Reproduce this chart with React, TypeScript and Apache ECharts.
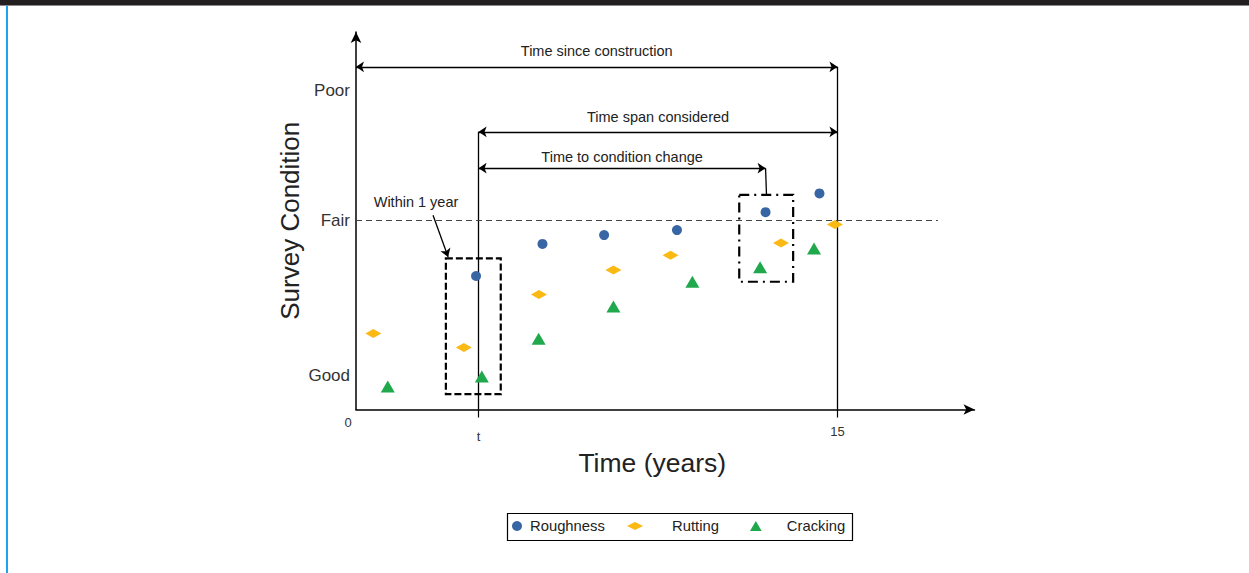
import React, { useEffect, useRef } from "react";
import * as echarts from "echarts";

// ---- data ----
const roughnessX = [3.74, 5.81, 7.73, 10.0, 12.76, 14.44];
const roughnessY = [34.9, 43.3, 45.6, 46.9, 51.6, 56.5];
const ruttingX = [0.54, 3.36, 5.7, 8.02, 9.8, 13.24, 14.92];
const ruttingY = [19.9, 16.2, 30.1, 36.5, 40.3, 43.5, 48.4];
const crackingX = [0.99, 3.92, 5.69, 8.02, 10.48, 12.59, 14.27];
const crackingY = [6.0, 8.6, 18.5, 26.9, 33.4, 37.2, 42.1];

const seriesNames = ["Roughness", "Rutting", "Cracking"];

const yTickValues = [8.8, 49.5, 83.3];
const yTickLabels = ["Good", "Fair", "Poor"];
const tValue = 3.82;
const xTickValues = [0, tValue, 15];
const xTickLabels = ["0", "t", "15"];

// annotation anchors (data units)
const sinceConstructionY = 89.6;
const spanConsideredY = 72.6;
const conditionChangeY = 63.1;
const conditionChangeEndX = 12.76;
const fairLineEndX = 18.13;
const box1 = [2.8, 39.5, 4.51, 4.0];
const box2 = [11.94, 56.1, 13.62, 33.4];
const withinArrow = [2.4, 50.8, 2.87, 39.9];
const withinText = [1.87, 54.2];

const FONT = "'Liberation Sans', Arial, Helvetica, sans-serif";

export default function App() {
  const ref = useRef<HTMLDivElement>(null);

  useEffect(() => {
    const chart = echarts.init(ref.current as HTMLDivElement, null, { renderer: "svg" });
    const black = "#000";
    const textColor = "#222";
    const lineStyle = { color: black, width: 1.3, type: "solid" as const };

    const seg = (
      x1: number, y1: number, x2: number, y2: number,
      s1: string, s2: string, style: any, label?: string, dist?: number
    ) => [
      {
        coord: [x1, y1],
        symbol: s1,
        lineStyle: style,
        label: label
          ? { show: true, formatter: label, position: "middle", distance: dist ?? 6,
              color: textColor, fontSize: 14.5, fontFamily: FONT }
          : { show: false },
      },
      { coord: [x2, y2], symbol: s2 },
    ];

    const legendBase = {
      top: 518.5,
      orient: "horizontal",
      itemWidth: 16,
      itemHeight: 10,
      padding: 0,
      selectedMode: false,
      textStyle: { fontSize: 14.8, color: textColor, fontFamily: FONT },
    };

    const option: any = {
      animation: false,
      backgroundColor: "#fff",
      textStyle: { fontFamily: FONT },
      graphic: [
        { type: "rect", shape: { x: 0, y: 0, width: 1249, height: 5 }, style: { fill: "#231f20" }, silent: true },
        { type: "rect", shape: { x: 0, y: 5, width: 1249, height: 1 }, style: { fill: "#8a8a8a" }, silent: true },
        { type: "rect", shape: { x: 6, y: 6, width: 2, height: 567 }, style: { fill: "#1aa6ee" }, silent: true },
        { type: "rect", shape: { x: 507.5, y: 513.5, width: 345, height: 27 }, style: { fill: "none", stroke: "#000", lineWidth: 1.2 }, silent: true },
      ],
      grid: { left: 356, top: 32, right: 274.5, bottom: 163.5, containLabel: false },
      legend: [
        { ...legendBase, left: 512, data: [{ name: seriesNames[0], icon: "circle" }] },
        { ...legendBase, left: 627, data: [{ name: seriesNames[1], icon: "path://M0,4L8,0L16,4L8,8Z", textStyle: { padding: [0, 0, 0, 24] } }] },
        { ...legendBase, left: 750, data: [{ name: seriesNames[2], icon: "path://M7,0L14,12L0,12Z", textStyle: { padding: [0, 0, 0, 18] } }] },
      ],
      xAxis: {
        type: "value",
        min: 0,
        max: 19.27,
        splitLine: { show: false },
        axisLine: { show: true, lineStyle: { color: black, width: 1.5 }, symbol: ["none", "arrow"], symbolSize: [8, 11] },
        axisTick: { show: true, customValues: [tValue, 15], length: 8, lineStyle: { color: black, width: 1.2 } },
        axisLabel: {
          show: true,
          customValues: xTickValues,
          margin: 6,
          formatter: (v: number) => {
            const i = xTickValues.findIndex((t) => Math.abs(t - v) < 1e-6);
            const key = ["z", "t", "f"][i];
            return i >= 0 ? `{${key}|${xTickLabels[i]}}` : "";
          },
          rich: {
            z: { fontSize: 13, color: "#333", fontFamily: FONT, padding: [0, 16, 0, 0] },
            t: { fontSize: 13, color: "#333", fontFamily: FONT, padding: [14, 0, 0, 0] },
            f: { fontSize: 13, color: "#333", fontFamily: FONT, padding: [9, 0, 0, 0] },
          },
        },
        name: "Time (years)",
        nameLocation: "middle",
        nameGap: 40,
        nameTextStyle: { fontSize: 26.5, color: textColor, fontFamily: FONT, padding: [0, 26, 0, 0] },
      },
      yAxis: {
        type: "value",
        min: 0,
        max: 98.7,
        splitLine: { show: false },
        axisLine: { show: true, lineStyle: { color: black, width: 1.5 }, symbol: ["none", "arrow"], symbolSize: [8, 11] },
        axisTick: { show: false },
        axisLabel: {
          show: true,
          customValues: yTickValues,
          margin: 6,
          fontSize: 17,
          color: "#333",
          fontFamily: FONT,
          formatter: (v: number) => {
            const i = yTickValues.findIndex((t) => Math.abs(t - v) < 1e-6);
            return i >= 0 ? yTickLabels[i] : "";
          },
        },
        name: "Survey Condition",
        nameLocation: "middle",
        nameGap: 53,
        nameTextStyle: { fontSize: 26, color: textColor, fontFamily: FONT },
      },
      series: [
        {
          name: seriesNames[0],
          type: "scatter",
          symbol: "circle",
          symbolSize: 10,
          itemStyle: { color: "#3866a4", opacity: 1 },
          data: roughnessX.map((x, i) => [x, roughnessY[i]]),
          z: 5,
        },
        {
          name: seriesNames[1],
          type: "scatter",
          symbol: "diamond",
          symbolSize: [16, 9],
          itemStyle: { color: "#fbb914", opacity: 1 },
          data: ruttingX.map((x, i) => [x, ruttingY[i]]),
          z: 5,
        },
        {
          name: seriesNames[2],
          type: "scatter",
          symbol: "triangle",
          symbolSize: [14, 12],
          itemStyle: { color: "#1fa84c", opacity: 1 },
          data: crackingX.map((x, i) => [x, crackingY[i]]),
          z: 5,
        },
        {
          name: "annotations",
          type: "scatter",
          data: [],
          clip: false,
          silent: true,
          z: 3,
          markLine: {
            silent: true,
            animation: false,
            symbol: ["none", "none"],
            symbolSize: 8,
            label: { show: false },
            emphasis: { disabled: true },
            data: [
              seg(0, sinceConstructionY, 15, sinceConstructionY, "arrow", "arrow", lineStyle, "Time since construction", 8),
              seg(15, sinceConstructionY, 15, 0, "none", "none", lineStyle),
              seg(tValue, spanConsideredY, 15, spanConsideredY, "arrow", "arrow", lineStyle, "Time span considered", 7),
              seg(tValue, spanConsideredY, tValue, 0, "none", "none", lineStyle),
              seg(tValue, conditionChangeY, conditionChangeEndX, conditionChangeY, "arrow", "arrow", lineStyle, "Time to condition change", 4),
              seg(conditionChangeEndX, conditionChangeY, conditionChangeEndX + 0.03, box2[1], "none", "none", lineStyle),
              seg(0, yTickValues[1], fairLineEndX, yTickValues[1], "none", "none", { color: "#444", width: 1.2, type: [6, 4] }),
              seg(withinArrow[0], withinArrow[1], withinArrow[2], withinArrow[3], "none", "arrow", lineStyle),
            ],
          },
          markArea: {
            silent: true,
            label: { show: false },
            emphasis: { disabled: true },
            data: [
              [
                { coord: [box1[0], box1[1]], itemStyle: { color: "rgba(0,0,0,0)", borderColor: black, borderWidth: 2.2, borderType: [7, 3] } },
                { coord: [box1[2], box1[3]] },
              ],
              [
                { coord: [box2[0], box2[1]], itemStyle: { color: "rgba(0,0,0,0)", borderColor: black, borderWidth: 2.2, borderType: [10, 5, 2, 5] } },
                { coord: [box2[2], box2[3]] },
              ],
            ],
          },
          markPoint: {
            silent: true,
            data: [
              {
                coord: withinText,
                symbol: "circle",
                symbolSize: 1,
                itemStyle: { color: "rgba(0,0,0,0)" },
                label: { show: true, position: "inside", formatter: "Within 1 year", color: textColor, fontSize: 14.5, fontFamily: FONT },
              },
            ],
          },
        },
      ],
    };

    chart.setOption(option);
    return () => chart.dispose();
  }, []);

  return (
    <div
      ref={ref}
      style={{ position: "fixed", left: 0, top: 0, width: 1249, height: 573, background: "#fff" }}
    />
  );
}
